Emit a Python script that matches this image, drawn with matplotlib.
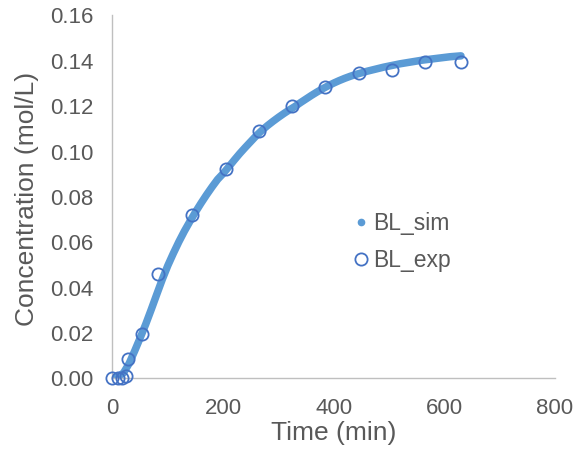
import matplotlib
matplotlib.use("Agg")
import matplotlib.pyplot as plt
from matplotlib.lines import Line2D
from matplotlib.ticker import FormatStrFormatter

plt.rcParams['font.family'] = ['Liberation Sans', 'DejaVu Sans']

# simulated curve
t_sim = [0, 10, 20, 30, 40, 50, 60, 70, 80, 90, 100, 110, 120, 130, 140, 150,
         160, 170, 180, 190, 200, 210, 220, 230, 240, 250, 260, 270, 280, 290,
         300, 310, 320, 330, 340, 350, 360, 370, 380, 390, 400, 410, 420, 430,
         440, 450, 460, 470, 480, 490, 500, 510, 520, 530, 540, 550, 560, 570,
         580, 590, 600, 610, 620, 630]
c_sim = [0.0000, 0.0006, 0.0024, 0.0065, 0.0120, 0.0178, 0.0238, 0.0303,
         0.0370, 0.0436, 0.0497, 0.0551, 0.0602, 0.0649, 0.0692, 0.0733,
         0.0772, 0.0809, 0.0844, 0.0877, 0.0903, 0.0932, 0.0962, 0.0991,
         0.1018, 0.1044, 0.1070, 0.1093, 0.1114, 0.1133, 0.1151, 0.1168,
         0.1184, 0.1199, 0.1216, 0.1232, 0.1248, 0.1263, 0.1277, 0.1290,
         0.1302, 0.1313, 0.1323, 0.1332, 0.1340, 0.1347, 0.1354, 0.1360,
         0.1366, 0.1372, 0.1377, 0.1382, 0.1387, 0.1391, 0.1395, 0.1399,
         0.1403, 0.1406, 0.1409, 0.1412, 0.1415, 0.1418, 0.1420, 0.1422]

# experimental points
t_exp = [0, 10, 17, 25, 28, 53, 83, 144, 205, 264, 325, 385, 445, 505, 565, 630]
c_exp = [0.0, 0.0001, 0.0003, 0.0011, 0.0084, 0.0196, 0.046, 0.0718, 0.0925,
         0.1092, 0.1202, 0.1286, 0.1348, 0.1361, 0.1397, 0.1397]

x_ticks = [0, 200, 400, 600, 800]
y_ticks = [0.00, 0.02, 0.04, 0.06, 0.08, 0.10, 0.12, 0.14, 0.16]

sim_col = '#5B9BD5'
exp_col = '#4472C4'
txt_col = '#595959'

fig = plt.figure(figsize=(5.81, 4.54), dpi=100)
ax = fig.add_axes([0.1936, 0.1667, 0.7617, 0.7992])

ax.plot(t_sim, c_sim, color=sim_col, lw=5.4, solid_capstyle='round', zorder=2)
ax.plot(t_exp, c_exp, ls='none', marker='o', ms=8.8, mfc='none', mec=exp_col,
        mew=1.3, zorder=3, clip_on=False)

ax.set_xlim(0, 800)
ax.set_ylim(0, 0.16)
ax.set_xticks(x_ticks)
ax.set_yticks(y_ticks)
ax.yaxis.set_major_formatter(FormatStrFormatter('%.2f'))
ax.tick_params(length=0, labelsize=16, colors=txt_col, pad=14)

for s in ['top', 'right']:
    ax.spines[s].set_visible(False)
for s in ['left', 'bottom']:
    ax.spines[s].set_color('#bfbfbf')
    ax.spines[s].set_linewidth(1.0)

ax.set_xlabel('Time (min)', fontsize=19, color=txt_col)
ax.set_ylabel('Concentration (mol/L)', fontsize=19, color=txt_col)
ax.xaxis.set_label_coords(0.5, -0.150)
ax.xaxis.label.set_va('center')
ax.yaxis.set_label_coords(-0.193, 0.494)
ax.yaxis.label.set_va('center')

handles = [
    Line2D([], [], ls='none', marker='o', ms=4.5, color=sim_col),
    Line2D([], [], ls='none', marker='o', ms=8.8, mfc='none', mec=exp_col, mew=1.3),
]
leg = ax.legend(handles, ['BL_sim', 'BL_exp'], loc='center left',
                bbox_to_anchor=(0.540, 0.375), frameon=False, fontsize=16.5,
                handlelength=0.8, handletextpad=0.15, labelspacing=0.6,
                borderpad=0, borderaxespad=0)
for t in leg.get_texts():
    t.set_color(txt_col)

plt.savefig('out.png', dpi=100)
